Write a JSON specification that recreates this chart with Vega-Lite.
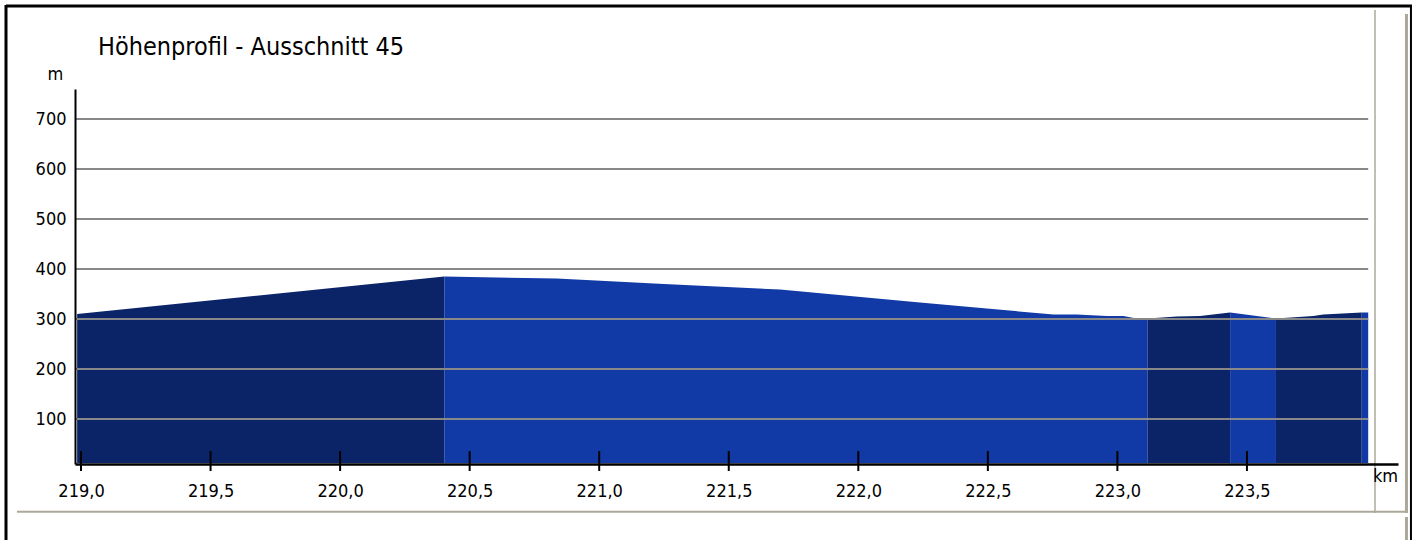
{
  "$schema": "https://vega.github.io/schema/vega-lite/v6.json",
  "width": 1323,
  "height": 375,
  "autosize": {"type": "none"},
  "padding": {"left": 75, "top": 89, "right": 20, "bottom": 76},
  "background": "white",
  "config": {
    "view": {"stroke": null},
    "font": "DejaVu Sans Condensed",
    "axis": {"labelFont": "DejaVu Sans Condensed", "titleFont": "DejaVu Sans Condensed"}
  },
  "title": {
    "text": "Höhenprofil - Ausschnitt 45",
    "anchor": "start",
    "frame": "group",
    "dx": 23,
    "fontSize": 25,
    "fontWeight": "normal",
    "color": "black",
    "font": "DejaVu Sans Condensed",
    "offset": -56
  },
  "layer": [
    {
      "data": {"values": [
        {"km": 218.985, "h": 310, "seg": 1, "shade": "dark"},
        {"km": 220.402, "h": 385, "seg": 1, "shade": "dark"},
        {"km": 220.402, "h": 385, "seg": 2, "shade": "blue"},
        {"km": 220.836, "h": 381, "seg": 2, "shade": "blue"},
        {"km": 221.25, "h": 370, "seg": 2, "shade": "blue"},
        {"km": 221.698, "h": 359, "seg": 2, "shade": "blue"},
        {"km": 222.238, "h": 333, "seg": 2, "shade": "blue"},
        {"km": 222.496, "h": 321, "seg": 2, "shade": "blue"},
        {"km": 222.753, "h": 309, "seg": 2, "shade": "blue"},
        {"km": 222.843, "h": 309, "seg": 2, "shade": "blue"},
        {"km": 222.959, "h": 306, "seg": 2, "shade": "blue"},
        {"km": 223.023, "h": 306, "seg": 2, "shade": "blue"},
        {"km": 223.074, "h": 301, "seg": 2, "shade": "blue"},
        {"km": 223.117, "h": 301, "seg": 2, "shade": "blue"},
        {"km": 223.117, "h": 301, "seg": 3, "shade": "dark"},
        {"km": 223.229, "h": 305, "seg": 3, "shade": "dark"},
        {"km": 223.319, "h": 306, "seg": 3, "shade": "dark"},
        {"km": 223.435, "h": 313, "seg": 3, "shade": "dark"},
        {"km": 223.435, "h": 313, "seg": 4, "shade": "blue"},
        {"km": 223.612, "h": 301, "seg": 4, "shade": "blue"},
        {"km": 223.612, "h": 301, "seg": 5, "shade": "dark"},
        {"km": 223.756, "h": 306, "seg": 5, "shade": "dark"},
        {"km": 223.795, "h": 309, "seg": 5, "shade": "dark"},
        {"km": 223.943, "h": 313, "seg": 5, "shade": "dark"},
        {"km": 223.943, "h": 313, "seg": 6, "shade": "blue"},
        {"km": 223.968, "h": 313, "seg": 6, "shade": "blue"}
      ]},
      "mark": {"type": "area", "interpolate": "linear"},
      "encoding": {
        "x": {
          "field": "km", "type": "quantitative",
          "scale": {"domain": [218.9768, 224.083], "nice": false, "zero": false},
          "axis": {
            "values": [219, 219.5, 220, 220.5, 221, 221.5, 222, 222.5, 223, 223.5],
            "labelExpr": "replace(format(datum.value, '.1f'), '.', ',')",
            "grid": false, "ticks": false,
            "domainColor": "black", "domainWidth": 2.5,
            "labelFontSize": 18, "labelColor": "black", "labelPadding": 18,
            "labelFlush": false,
            "title": "km", "titleX": 1310, "titleY": 12,
            "titleBaseline": "middle", "titleAlign": "center",
            "titleFontSize": 18, "titleFontWeight": "normal", "titleColor": "black",
            "zindex": 1
          }
        },
        "y": {
          "field": "h", "type": "quantitative",
          "scale": {"domain": [10, 760], "nice": false, "zero": false},
          "axis": {
            "values": [100, 200, 300, 400, 500, 600, 700],
            "grid": false, "ticks": false,
            "domainColor": "black", "domainWidth": 2,
            "labelFontSize": 18, "labelColor": "black", "labelPadding": 9,
            "labelFlush": false,
            "title": "m", "titleAngle": 0, "titleX": -20, "titleY": -15,
            "titleBaseline": "middle", "titleAlign": "center",
            "titleFontSize": 18, "titleFontWeight": "normal", "titleColor": "black",
            "zindex": 1
          }
        },
        "y2": {"datum": 12},
        "color": {
          "field": "shade", "type": "nominal",
          "scale": {"domain": ["dark", "blue"], "range": ["#0b2468", "#113aa6"]},
          "legend": null
        },
        "detail": {"field": "seg", "type": "nominal"}
      }
    },
    {
      "data": {"values": [{"h": 100}, {"h": 200}, {"h": 300}, {"h": 400}, {"h": 500}, {"h": 600}, {"h": 700}]},
      "mark": {"type": "rule", "color": "#888888", "strokeWidth": 2},
      "encoding": {
        "x": {"datum": 218.9768, "type": "quantitative"},
        "x2": {"datum": 223.968},
        "y": {"field": "h", "type": "quantitative"}
      }
    },
    {
      "data": {"values": [{"km": 219}, {"km": 219.5}, {"km": 220}, {"km": 220.5}, {"km": 221}, {"km": 221.5}, {"km": 222}, {"km": 222.5}, {"km": 223}, {"km": 223.5}]},
      "mark": {"type": "rule", "color": "black", "strokeWidth": 2},
      "encoding": {
        "x": {"field": "km", "type": "quantitative"},
        "y": {"datum": 36, "type": "quantitative"},
        "y2": {"datum": -4}
      }
    },
    {
      "data": {"values": [{}]},
      "mark": {"type": "rule", "color": "black", "strokeWidth": 3},
      "encoding": {
        "x": {"datum": 218.7105, "type": "quantitative"},
        "y": {"datum": 928, "type": "quantitative"},
        "y2": {"datum": -142}
      }
    },
    {
      "data": {"values": [{}]},
      "mark": {"type": "rule", "color": "black", "strokeWidth": 3},
      "encoding": {
        "x": {"datum": 218.7105, "type": "quantitative"},
        "x2": {"datum": 224.137},
        "y": {"datum": 926, "type": "quantitative"}
      }
    },
    {
      "data": {"values": [{}]},
      "mark": {"type": "rule", "color": "black", "strokeWidth": 2},
      "encoding": {
        "x": {"datum": 224.133, "type": "quantitative"},
        "y": {"datum": 928, "type": "quantitative"},
        "y2": {"datum": -142}
      }
    },
    {
      "data": {"values": [{}]},
      "mark": {"type": "rule", "color": "#aca899", "strokeWidth": 3},
      "encoding": {
        "x": {"datum": 224.1157, "type": "quantitative"},
        "y": {"datum": 910, "type": "quantitative"},
        "y2": {"datum": -88}
      }
    },
    {
      "data": {"values": [{}]},
      "mark": {"type": "rule", "color": "#aca899", "strokeWidth": 3},
      "encoding": {
        "x": {"datum": 224.1157, "type": "quantitative"},
        "y": {"datum": -96, "type": "quantitative"},
        "y2": {"datum": -142}
      }
    },
    {
      "data": {"values": [{}]},
      "mark": {"type": "rule", "color": "#aca899", "strokeWidth": 1.5},
      "encoding": {
        "x": {"datum": 223.9942, "type": "quantitative"},
        "y": {"datum": 918, "type": "quantitative"},
        "y2": {"datum": -88}
      }
    },
    {
      "data": {"values": [{}]},
      "mark": {"type": "rule", "color": "#aca899", "strokeWidth": 2},
      "encoding": {
        "x": {"datum": 218.753, "type": "quantitative"},
        "x2": {"datum": 224.12},
        "y": {"datum": -85.4, "type": "quantitative"}
      }
    }
  ]
}
